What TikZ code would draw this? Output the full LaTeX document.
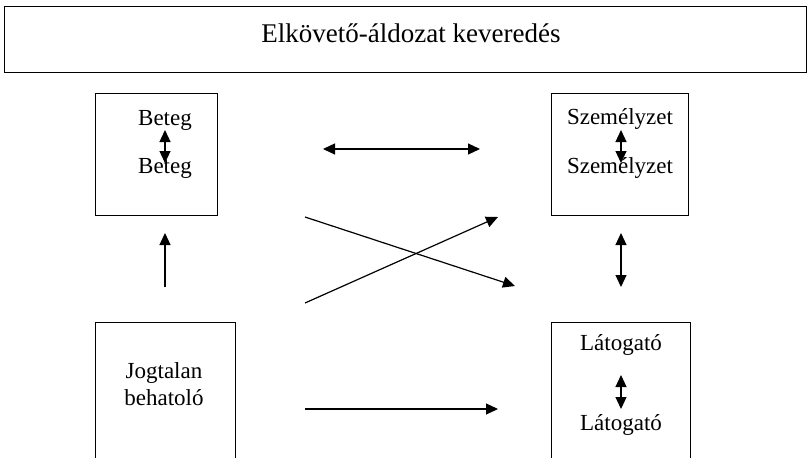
\documentclass[tikz,border=0pt]{standalone}
\usepackage{fontspec}
\setmainfont{Liberation Serif}
\usetikzlibrary{arrows.meta}
\begin{document}
\begin{tikzpicture}[x=1pt,y=-1pt,
  box/.style={draw, line width=1.1pt, inner sep=0pt, anchor=north west},
  lbl/.style={inner sep=0pt, anchor=base, font=\fontsize{23}{27}\selectfont},
  tip/.tip={Triangle[length=12pt,width=11pt]},
  arr/.style={line width=1.2pt, -tip},
  darr/.style={line width=1.2pt, tip-tip}]
\useasboundingbox (0,0) rectangle (809,458);
\clip (0,0) rectangle (809,458);
% boxes
\node[box, minimum width=802pt, minimum height=66pt] (title) at (4,6) {};
\node[inner sep=0pt, anchor=base, font=\fontsize{27}{32}\selectfont] (titletext) at (411,42) {Elkövető-áldozat keveredés};
\node[box, minimum width=122pt, minimum height=122pt] (beteg) at (95,93) {};
\node[box, minimum width=137pt, minimum height=122pt] (szem) at (551,93) {};
\node[box, minimum width=140pt, minimum height=160pt] (jog) at (95,322) {};
\node[box, minimum width=139pt, minimum height=160pt] (lat) at (551,322) {};
% texts
\node[lbl] (b1) at (165,125) {Beteg};
\node[lbl] (b2) at (165,173) {Beteg};
\node[lbl] (s1) at (620,124) {Személyzet};
\node[lbl] (s2) at (620,173) {Személyzet};
\node[lbl, align=center, anchor=center] (j1) at (164,384) {Jogtalan\\behatoló};
\node[lbl] (l1) at (621,350) {Látogató};
\node[lbl] (l2) at (621,430) {Látogató};
% coordinates
\coordinate (ba) at (165,130); \coordinate (bb) at (165,163);
\coordinate (sa) at (621,130); \coordinate (sb) at (621,163);
\coordinate (la) at (621,375); \coordinate (lb) at (621,409);
\coordinate (h1a) at (323,149); \coordinate (h1b) at (480,149);
\coordinate (upa) at (165,287); \coordinate (upb) at (165,233);
\coordinate (v2a) at (621,233); \coordinate (v2b) at (621,287);
\coordinate (h2a) at (305,409); \coordinate (h2b) at (498,409);
\coordinate (x1a) at (305,217); \coordinate (x1b) at (515,286);
\coordinate (x2a) at (305,303); \coordinate (x2b) at (498,217);
% arrows
\draw[darr] (ba) -- (bb);
\draw[darr] (sa) -- (sb);
\draw[darr] (la) -- (lb);
\draw[darr] (h1a) -- (h1b);
\draw[arr] (upa) -- (upb);
\draw[darr] (v2a) -- (v2b);
\draw[arr] (h2a) -- (h2b);
\draw[arr] (x1a) -- (x1b);
\draw[arr] (x2a) -- (x2b);
\end{tikzpicture}
\end{document}
